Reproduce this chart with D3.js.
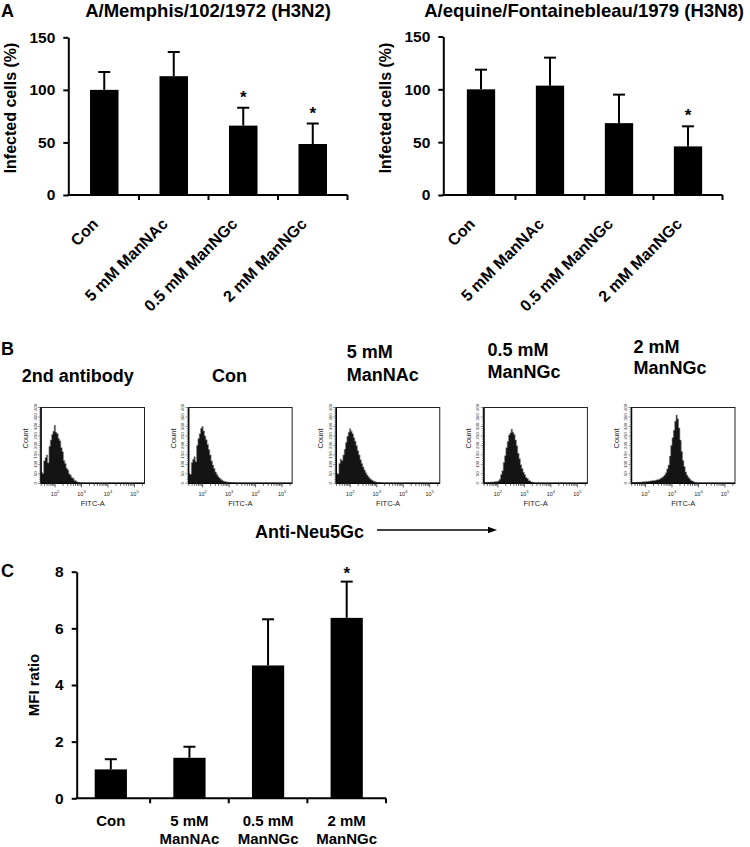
<!DOCTYPE html>
<html><head><meta charset="utf-8">
<script src="https://cdn.jsdelivr.net/npm/d3@7"></script>
<style>
body{margin:0;background:#fff}
svg{display:block}
text{font-family:"Liberation Sans",Arial,Helvetica,sans-serif}
</style>
</head><body>
<svg id="c" width="750" height="847"></svg>
<script>
// ---------------- DATA ----------------
const catsA = ["Con", "5 mM ManNAc", "0.5 mM ManNGc", "2 mM ManNGc"];
const memphisMean = [100, 113, 66, 48.5];
const memphisSD = [17, 23, 17, 19.5];
const memphisSig = [false, false, true, true];
const equineMean = [100, 103.5, 68, 46];
const equineSD = [18.6, 26.5, 27, 19];
const equineSig = [false, false, false, true];
const yTicksA = [0, 50, 100, 150];

const catsC = ["Con", "5 mM ManNAc", "0.5 mM ManNGc", "2 mM ManNGc"];
const catsCLines = [["Con"], ["5 mM", "ManNAc"], ["0.5 mM", "ManNGc"], ["2 mM", "ManNGc"]];
const mfiMean = [1.02, 1.43, 4.69, 6.37];
const mfiSD = [0.36, 0.39, 1.63, 1.28];
const mfiSig = [false, false, false, true];
const yTicksC = [0, 2, 4, 6, 8];

const histSamples = ["2nd antibody", "Con", "5 mM ManNAc", "0.5 mM ManNGc", "2 mM ManNGc"];
const histTitles = [["2nd antibody"], ["Con"], ["5 mM", "ManNAc"], ["0.5 mM", "ManNGc"], ["2 mM", "ManNGc"]];
const histStartLog = [1.47, 1.47, 1.47, 1.50, 1.50];
const histStepLog = 0.05;
const hist1 = [60,52,118,135,150,108,195,228,258,275,306,270,262,236,224,188,166,120,104,80,70,50,42,30,26,15,13,7,6,3,2,0];
const hist2 = [50,48,110,125,140,115,200,236,262,290,300,276,250,230,205,178,150,118,96,78,60,48,36,28,22,16,12,10,8,6,5,4,3,2,2,1,0];
const hist3 = [52,50,105,128,120,150,180,215,248,270,288,275,262,240,222,198,172,150,124,104,86,70,56,44,34,26,20,15,11,8,6,4,3,2,1,0];
const hist4 = [2,4,5,4,6,7,6,8,9,10,13,22,46,66,110,146,188,220,255,266,286,270,258,228,198,158,130,98,78,58,45,31,25,15,12,7,4,2,0];
const hist5 = [2,4,4,5,5,6,6,7,8,8,9,10,11,12,13,14,15,16,18,20,22,26,30,36,44,56,76,96,144,200,240,280,328,360,340,292,228,168,120,88,60,44,32,24,16,12,8,4,2,0];
const histCounts = [hist1, hist2, hist3, hist4, hist5];
const histCountTicks = [0, 50, 100, 150, 200, 250, 300, 350, 400];
const histDecades = [2, 3, 4, 5];

// ---------------- DRAW ----------------
const svg = d3.select("#c");
const FONT = '"Liberation Sans",Arial,Helvetica,sans-serif';

function styleAxis(sel, fs) {
  sel.select(".domain").attr("stroke", "#000").attr("stroke-width", 2);
  sel.selectAll(".tick line").attr("stroke", "#000").attr("stroke-width", 2);
  sel.selectAll(".tick text").attr("fill", "#000").attr("font-size", fs)
     .attr("font-weight", "bold").attr("font-family", FONT);
}

function drawBars(cfg) {
  const x = d3.scaleBand().domain(cfg.cats).range(cfg.xRange).padding(0);
  const y = d3.scaleLinear().domain(cfg.yDomain).range(cfg.yRange);
  const g = svg.append("g");
  const y0 = y(0);
  const bw = x.bandwidth() * 0.41;
  cfg.cats.forEach((c, i) => {
    const cx = x(c) + x.bandwidth() / 2;
    const top = y(cfg.means[i]);
    const et = y(cfg.means[i] + cfg.sds[i]);
    g.append("line").attr("x1", cx).attr("x2", cx).attr("y1", top).attr("y2", et)
      .attr("stroke", "#000").attr("stroke-width", 2);
    g.append("line").attr("x1", cx - 6).attr("x2", cx + 6).attr("y1", et).attr("y2", et)
      .attr("stroke", "#000").attr("stroke-width", 2);
    g.append("rect").attr("x", cx - bw / 2).attr("y", top).attr("width", bw)
      .attr("height", y0 - top).attr("fill", "#000");
    if (cfg.sig[i]) {
      g.append("text").attr("x", cx).attr("y", et - cfg.starGap).attr("text-anchor", "middle")
        .attr("font-size", 17).attr("font-weight", "bold").text("*");
    }
  });
  const ya = d3.axisLeft(y).tickValues(cfg.yTicks).tickSize(5).tickSizeOuter(0).tickPadding(8)
    .tickFormat(d3.format("d"));
  const yg = g.append("g").attr("transform", `translate(${cfg.axisX},0)`).call(ya);
  styleAxis(yg, cfg.tickFs);
  g.append("line").attr("x1", cfg.axisX - 1).attr("x2", cfg.xRange[1]).attr("y1", y0).attr("y2", y0)
    .attr("stroke", "#000").attr("stroke-width", 2);
  cfg.cats.forEach(c => {
    const bx = x(c) + x.bandwidth();
    g.append("line").attr("x1", bx).attr("x2", bx).attr("y1", y0).attr("y2", y0 + 5)
      .attr("stroke", "#000").attr("stroke-width", 2);
  });
  return { x, y, g, y0 };
}

// ---- Panel A
function panelA(cfg) {
  const r = drawBars(cfg);
  const { x, g, y0 } = r;
  cfg.cats.forEach(c => {
    const cx = x(c) + x.bandwidth() / 2;
    g.append("text").attr("transform", `translate(${cx - 5},${y0 + 30}) rotate(-45)`)
      .attr("text-anchor", "end").attr("font-size", 16).attr("font-weight", "bold").text(c);
  });
  g.append("text").attr("transform", `translate(${cfg.ylabX},${cfg.ylabY}) rotate(-90)`)
    .attr("text-anchor", "middle").attr("font-size", 16).attr("font-weight", "bold")
    .text("Infected cells (%)");
  g.append("text").attr("x", cfg.titleX).attr("y", 17).attr("text-anchor", "middle")
    .attr("font-size", 18.5).attr("font-weight", "bold").text(cfg.title);
}

svg.append("text").attr("x", 1).attr("y", 17).attr("font-size", 18).attr("font-weight", "bold").text("A");

panelA({
  cats: catsA, means: memphisMean, sds: memphisSD, sig: memphisSig,
  yDomain: [0, 150], yTicks: yTicksA, yRange: [195, 37.3], xRange: [69.5, 347.5], axisX: 68.3,
  tickFs: 15.5, starGap: 5, ylabX: 16, ylabY: 108, title: "A/Memphis/102/1972 (H3N2)", titleX: 208
});
panelA({
  cats: catsA, means: equineMean, sds: equineSD, sig: equineSig,
  yDomain: [0, 150], yTicks: yTicksA, yRange: [195, 36.5], xRange: [446.5, 722.5], axisX: 443.3,
  tickFs: 15.5, starGap: 5, ylabX: 391, ylabY: 108, title: "A/equine/Fontainebleau/1979 (H3N8)", titleX: 584
});

// ---- Panel B (flow histograms)
svg.append("text").attr("x", 1).attr("y", 355).attr("font-size", 18).attr("font-weight", "bold").text("B");

const boxLeft = d3.scalePoint().domain(histSamples).range([41, 631.5]);
const boxW = 103.5, boxTop = 407.5, boxBot = 483.3;
const titleLayout = [
  { x: 21.7, y: [382] }, { x: 212, y: [382] }, { x: 346.7, y: [358, 381] },
  { x: 487.5, y: [356, 378] }, { x: 633.5, y: [353, 374] }
];

histSamples.forEach((s, i) => {
  const L = boxLeft(s);
  const g = svg.append("g");
  const x = d3.scaleLog().domain([Math.pow(10, 1.47), Math.pow(10, 5.38)]).range([L, L + boxW]);
  const y = d3.scaleLinear().domain([0, 400]).range([boxBot, boxTop]);
  const bins = histCounts[i].map((c, k) => ({ l: histStartLog[i] + k * histStepLog, c }));
  const clipId = "clip" + i;
  svg.append("clipPath").attr("id", clipId).append("rect")
    .attr("x", L).attr("y", boxTop).attr("width", boxW).attr("height", boxBot - boxTop);
  const area = d3.area().x(d => x(Math.pow(10, d.l))).y0(boxBot).y1(d => y(d.c)).curve(d3.curveStepAfter);
  g.append("path").datum(bins).attr("d", area).attr("fill", "#141414")
    .attr("stroke", "#8a8a8a").attr("stroke-width", 0.6).attr("clip-path", `url(#${clipId})`);
  // frame
  g.append("rect").attr("x", L).attr("y", boxTop).attr("width", boxW).attr("height", boxBot - boxTop)
    .attr("fill", "none").attr("stroke", "#222").attr("stroke-width", 1);
  g.append("line").attr("x1", L).attr("x2", L + boxW).attr("y1", boxBot).attr("y2", boxBot)
    .attr("stroke", "#000").attr("stroke-width", 1.5);
  g.append("line").attr("x1", L).attr("x2", L).attr("y1", boxTop).attr("y2", boxBot)
    .attr("stroke", "#000").attr("stroke-width", 1.5);
  // x ticks (log)
  x.ticks().forEach(t => {
    const lg = Math.log10(t);
    const major = Math.abs(lg - Math.round(lg)) < 1e-9;
    g.append("line").attr("x1", x(t)).attr("x2", x(t)).attr("y1", boxBot).attr("y2", boxBot + (major ? 4 : 2.5))
      .attr("stroke", "#333").attr("stroke-width", 0.8);
  });
  histDecades.forEach(dk => {
    const t = g.append("text").attr("x", x(Math.pow(10, dk))).attr("y", boxBot + 12.5)
      .attr("text-anchor", "middle").attr("font-size", 5.5).attr("fill", "#222");
    t.append("tspan").text("10");
    t.append("tspan").attr("dy", -2.5).attr("font-size", 4).text(dk);
  });
  g.append("text").attr("x", L + boxW / 2).attr("y", boxBot + 23).attr("text-anchor", "middle")
    .attr("font-size", 7.5).attr("fill", "#222").text("FITC-A");
  // y ticks
  d3.range(0, 401, 10).forEach(v => {
    const major = v % 50 === 0;
    g.append("line").attr("x1", L).attr("x2", L - (major ? 3 : 1.8)).attr("y1", y(v)).attr("y2", y(v))
      .attr("stroke", "#333").attr("stroke-width", 0.6);
  });
  histCountTicks.forEach(v => {
    g.append("text").attr("transform", `translate(${L - 4.5},${y(v)}) rotate(-90)`)
      .attr("text-anchor", "middle").attr("font-size", 4.2).attr("fill", "#222").text(v);
  });
  g.append("text").attr("transform", `translate(${L - 13},${boxTop + 31}) rotate(-90)`)
    .attr("text-anchor", "middle").attr("font-size", 7.5).attr("fill", "#222").text("Count");
  // title
  const tl = titleLayout[i];
  histTitles[i].forEach((line, k) => {
    g.append("text").attr("x", tl.x).attr("y", tl.y[k]).attr("font-size", 18).attr("font-weight", "bold").text(line);
  });
});

svg.append("text").attr("x", 255).attr("y", 537.5).attr("font-size", 18).attr("font-weight", "bold").text("Anti-Neu5Gc");
svg.append("line").attr("x1", 377).attr("x2", 489).attr("y1", 530).attr("y2", 530).attr("stroke", "#000").attr("stroke-width", 1.5);
svg.append("path").attr("d", "M488,526.8 L497,530 L488,533.2 Z").attr("fill", "#000");

// ---- Panel C
svg.append("text").attr("x", 1).attr("y", 577).attr("font-size", 18).attr("font-weight", "bold").text("C");
(function () {
  const r = drawBars({
    cats: catsC, means: mfiMean, sds: mfiSD, sig: mfiSig,
    yDomain: [0, 8], yTicks: yTicksC, yRange: [798.3, 571.7], xRange: [71.5, 386], axisX: 76.7,
    tickFs: 15.5, starGap: 3
  });
  const { x, g, y0 } = r;
  catsC.forEach((c, i) => {
    const cx = x(c) + x.bandwidth() / 2;
    catsCLines[i].forEach((ln, k) => {
      g.append("text").attr("x", cx).attr("y", 826 + k * 17.5).attr("text-anchor", "middle")
        .attr("font-size", 15).attr("font-weight", "bold").text(ln);
    });
  });
  g.append("text").attr("transform", `translate(39,685) rotate(-90)`).attr("text-anchor", "middle")
    .attr("font-size", 15).attr("font-weight", "bold").text("MFI ratio");
})();
</script>
</body></html>
